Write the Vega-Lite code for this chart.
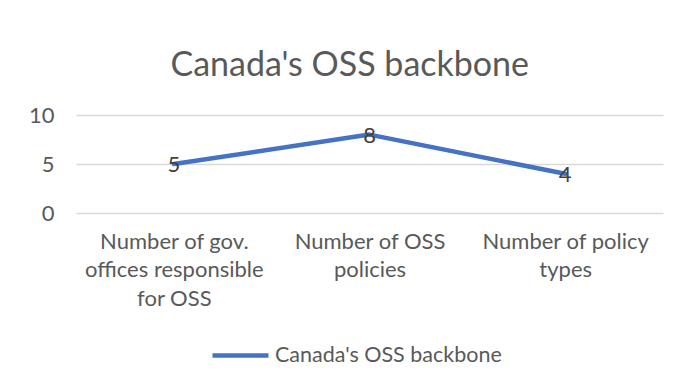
{
  "$schema": "https://vega.github.io/schema/vega-lite/v6.json",
  "width": 587,
  "height": 98,
  "autosize": {"type": "none"},
  "padding": {"left": 76, "top": 115, "right": 16, "bottom": 172},
  "background": "white",
  "config": {
    "font": "Lato",
    "view": {"stroke": null}
  },
  "title": {
    "text": "Canada's OSS backbone",
    "fontSize": 34,
    "font": "Lato",
    "fontWeight": "normal",
    "color": "#595959",
    "anchor": "middle",
    "frame": "bounds",
    "baseline": "bottom",
    "offset": -13,
    "dx": 4
  },
  "data": {
    "values": [
      {"category": "Number of gov. offices responsible for OSS", "value": 5, "series": "Canada's OSS backbone"},
      {"category": "Number of OSS policies", "value": 8, "series": "Canada's OSS backbone"},
      {"category": "Number of policy types", "value": 4, "series": "Canada's OSS backbone"}
    ]
  },
  "encoding": {
    "x": {
      "field": "category",
      "type": "nominal",
      "sort": null,
      "scale": {"type": "point", "padding": 0.5},
      "axis": {
        "title": null,
        "labelAngle": 0,
        "labelFontSize": 22,
        "labelColor": "#595959",
        "labelFont": "Lato",
        "labelLineHeight": 28.5,
        "labelPadding": 18,
        "labelExpr": "datum.value == 'Number of gov. offices responsible for OSS' ? ['Number of gov.', 'offices responsible', 'for OSS'] : datum.value == 'Number of OSS policies' ? ['Number of OSS', 'policies'] : ['Number of policy', 'types']",
        "domain": false,
        "ticks": false,
        "grid": false
      }
    },
    "y": {
      "field": "value",
      "type": "quantitative",
      "scale": {"domain": [0, 10]},
      "axis": {
        "title": null,
        "values": [0, 5, 10],
        "labelFontSize": 22,
        "labelColor": "#595959",
        "labelFont": "Lato",
        "labelPadding": 22,
        "domain": false,
        "ticks": false,
        "gridColor": "#D9D9D9",
        "gridWidth": 1.3
      }
    }
  },
  "layer": [
    {
      "mark": {"type": "line", "strokeWidth": 4.5, "strokeCap": "round", "strokeJoin": "round"},
      "encoding": {
        "color": {
          "field": "series",
          "type": "nominal",
          "scale": {"range": ["#4472C4"]},
          "legend": {
            "title": null,
            "orient": "none",
            "legendX": 134,
            "legendY": 210,
            "symbolType": "stroke",
            "symbolSize": 3136,
            "symbolStrokeWidth": 4.5,
            "labelFontSize": 21.5,
            "labelFont": "Lato",
            "labelColor": "#595959",
            "labelOffset": 4,
            "labelLimit": 0
          }
        }
      }
    },
    {
      "mark": {"type": "text", "fontSize": 22, "font": "Lato", "color": "#404040", "baseline": "middle", "align": "center", "dy": 1},
      "encoding": {
        "text": {"field": "value", "type": "quantitative"}
      }
    }
  ]
}
